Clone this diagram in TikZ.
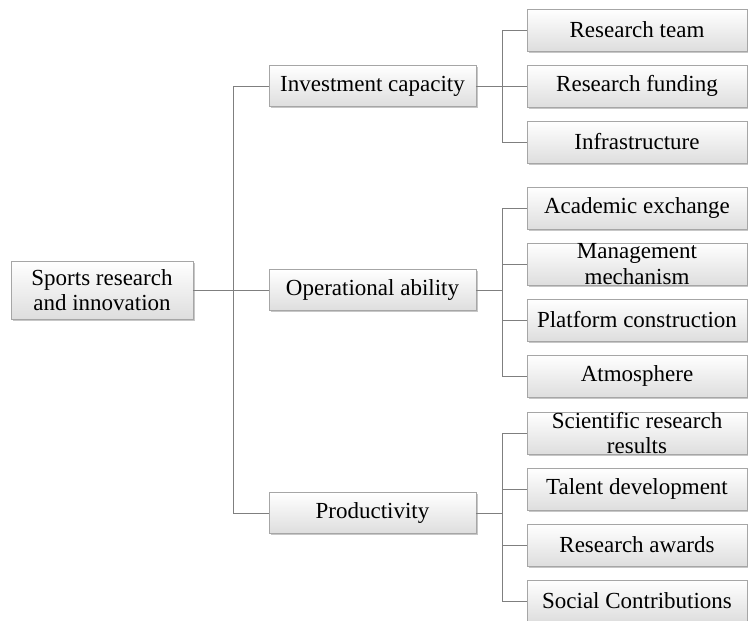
\documentclass[tikz,border=0pt]{standalone}
\usepackage{fontspec}
\setmainfont{Liberation Serif}
\usetikzlibrary{shadows}
\definecolor{boxline}{HTML}{A6A6A6}
\definecolor{conn}{HTML}{7F7F7F}
\begin{document}
\begin{tikzpicture}[x=1pt,y=-1pt,
  box/.style={draw=boxline,line width=0.6pt,top color=white,bottom color=black!13,
    drop shadow={shadow xshift=1.8pt,shadow yshift=-1.8pt,fill=black,opacity=0.22},
    inner sep=0pt,align=center,font=\fontsize{23}{25.5}\selectfont,text=black},
  rootbox/.style={box,minimum width=182pt,minimum height=58pt},
  midbox/.style={box,minimum width=207pt,minimum height=41pt},
  leafbox/.style={box,minimum width=220pt,minimum height=42pt},
  conn/.style={draw=conn,line width=0.6pt}]
\useasboundingbox (0,0) rectangle (748,621);
\node[rootbox] (root) at (102,290) {Sports research\\and innovation};
\node[midbox] (m1) at (372.5,86) {Investment capacity};
\node[midbox] (m2) at (372.5,290) {Operational ability};
\node[midbox] (m3) at (372.5,513) {Productivity};
\node[leafbox] (a1) at (637,30) {Research team};
\node[leafbox] (a2) at (637,86) {Research funding};
\node[leafbox] (a3) at (637,142) {Infrastructure};
\node[leafbox] (b1) at (637,208) {Academic exchange};
\node[leafbox] (b2) at (637,264) {Management\\mechanism};
\node[leafbox] (b3) at (637,320) {Platform construction};
\node[leafbox] (b4) at (637,376) {Atmosphere};
\node[leafbox] (c1) at (637,433) {Scientific research\\results};
\node[leafbox] (c2) at (637,489) {Talent development};
\node[leafbox] (c3) at (637,545) {Research awards};
\node[leafbox] (c4) at (637,601) {Social Contributions};
\coordinate (t) at (233,290);
\coordinate (s) at (502,0);
\draw[conn] (root.east) -- (m2.west);
\draw[conn] (m1.west) -- (m1.west -| t) -- (m3.west -| t) -- (m3.west);
\draw[conn] (m1.east) -- (m1.east -| s);
\draw[conn] (m2.east) -- (m2.east -| s);
\draw[conn] (m3.east) -- (m3.east -| s);
\draw[conn] (a1.west) -- (a1.west -| s) -- (a3.west -| s) -- (a3.west);
\draw[conn] (a2.west) -- (a2.west -| s);
\draw[conn] (b1.west) -- (b1.west -| s) -- (b4.west -| s) -- (b4.west);
\draw[conn] (b2.west) -- (b2.west -| s);
\draw[conn] (b3.west) -- (b3.west -| s);
\draw[conn] (c1.west) -- (c1.west -| s) -- (c4.west -| s) -- (c4.west);
\draw[conn] (c2.west) -- (c2.west -| s);
\draw[conn] (c3.west) -- (c3.west -| s);
\end{tikzpicture}
\end{document}
